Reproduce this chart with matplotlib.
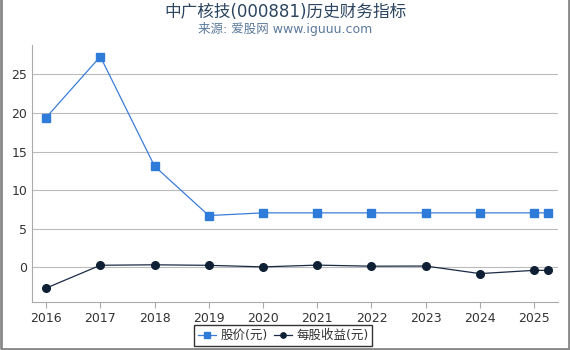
import matplotlib.pyplot as plt
from matplotlib.patches import Rectangle

plt.rcParams['font.family'] = ['DejaVu Sans', 'Noto Sans CJK SC']

# data
years = [2016, 2017, 2018, 2019, 2020, 2021, 2022, 2023, 2024, 2025, 2025.25]
price = [19.4, 27.3, 13.1, 6.7, 7.05, 7.05, 7.05, 7.05, 7.05, 7.05, 7.05]
eps = [-2.7, 0.26, 0.32, 0.25, 0.05, 0.28, 0.14, 0.16, -0.82, -0.4, -0.4]
tick_years = list(range(2016, 2026))

fig = plt.figure(figsize=(5.7, 3.5), dpi=100)
ax = fig.add_axes([32 / 570, 48 / 350, 526 / 570, 257 / 350])

ax.plot(years, price, color="#3b7dd8", lw=0.9, marker="s", ms=5.5,
        markerfacecolor="#2f7bd9", markeredgecolor="#2f7bd9", label="股价(元)")
ax.plot(years, eps, color="#1a2b45", lw=0.9, marker="o", ms=5.5,
        markerfacecolor="#0f2035", markeredgecolor="#0f2035", label="每股收益(元)")

ax.set_xlim(2015.74, 2025.44)
ax.set_ylim(-4.5, 28.8)
ax.set_xticks(tick_years)
ax.set_xticklabels([str(y) for y in tick_years])
ax.set_yticks([0, 5, 10, 15, 20, 25])
ax.grid(axis="y", color="#bbbbbb", lw=0.8)
ax.set_axisbelow(True)
for s in ["top", "right"]:
    ax.spines[s].set_visible(False)
ax.spines["left"].set_color("#aaaaaa")
ax.spines["bottom"].set_color("#aaaaaa")
ax.tick_params(colors="#333333", labelsize=9, length=4)
ax.tick_params(axis="y", length=0)
ax.tick_params(axis="x", color="#aaaaaa")

fig.text(0.5, 0.965, "中广核技(000881)历史财务指标", ha="center", va="center",
         fontsize=12, color="#2c4560")
fig.text(0.5, 0.918, "来源: 爱股网 www.iguuu.com", ha="center", va="center",
         fontsize=9, color="#5b7a9c")

leg = ax.legend(loc="center", bbox_to_anchor=(0.5 - 12 / 526, -0.13), ncol=2,
                frameon=True, fancybox=False, fontsize=9, handlelength=1.5,
                handletextpad=0.3, columnspacing=0.5, borderpad=0.3,
                markerscale=0.7)
leg.get_frame().set_edgecolor("black")
leg.get_frame().set_linewidth(1.0)
for t in leg.get_texts():
    t.set_color("#333333")

# gray frame around figure
fig.patches.append(Rectangle((0.001, 0.002), 0.997, 1.2, transform=fig.transFigure,
                             fill=False, edgecolor="#888888", lw=2))

fig.savefig("out.png", dpi=100)
